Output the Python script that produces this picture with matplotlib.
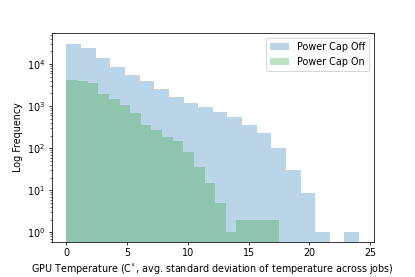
import numpy as np
import matplotlib
matplotlib.use('Agg')
import matplotlib.pyplot as plt

# counts per bin
off_counts = [29500, 24500, 13900, 8300, 5600, 4060, 2560, 1620, 1180, 950,
              740, 550, 347, 232, 103, 30, 8.5, 1, 0, 1]
on_counts = [4200, 4060, 3640, 1910, 1440, 1060, 675, 347, 275, 187,
             148, 82, 36, 15, 5, 1, 2, 2, 2, 2]
off_max = 24.1   # upper edge of last bin, power cap off
on_max = 17.5    # upper edge of last bin, power cap on

off_edges = np.linspace(0, off_max, len(off_counts) + 1)
on_edges = np.linspace(0, on_max, len(on_counts) + 1)
off_mid = (off_edges[:-1] + off_edges[1:]) / 2
on_mid = (on_edges[:-1] + on_edges[1:]) / 2

fig, ax = plt.subplots(figsize=(5.995, 4), dpi=69.25)
fig.subplots_adjust(left=0.125, right=0.9, top=0.88, bottom=0.1274)

ax.hist(off_mid, bins=off_edges, weights=off_counts, alpha=0.3,
        color='tab:blue', label='Power Cap Off', log=True)
ax.hist(on_mid, bins=on_edges, weights=on_counts, alpha=0.3,
        color='tab:green', label='Power Cap On', log=True)

ax.set_xlim(-1.2, 25.3)
ax.set_ylim(0.6, 5.4e4)
ax.set_xlabel(r'GPU Temperature (C$^{\circ}$, avg. standard deviation of temperature across jobs)')
ax.set_ylabel('Log Frequency')
ax.legend(loc='upper right')

fig.savefig('out.png', dpi=69.25)
